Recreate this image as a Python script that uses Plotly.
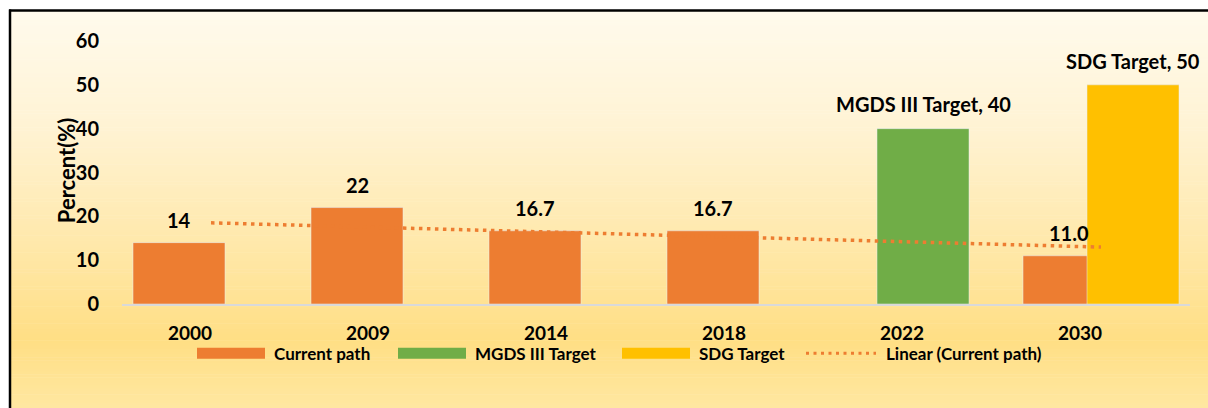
import numpy as np
import plotly.graph_objects as go

# ---------------- data ----------------
years = ["2000", "2009", "2014", "2018", "2022", "2030"]
current_path = [14, 22, 16.7, 16.7, None, 11.0]
current_labels = ["14", "22", "16.7", "16.7", "", "11.0"]
mgds_target = [None, None, None, None, 40, None]
mgds_labels = ["", "", "", "", "MGDS III Target, 40", ""]
sdg_target = [None, None, None, None, None, 50]
sdg_labels = ["", "", "", "", "", "SDG Target, 50"]
y_ticks = [0, 10, 20, 30, 40, 50, 60]
legend_names = ["Current path", "MGDS III Target", "SDG Target", "Linear (Current path)"]

# ---------------- styles ----------------
ORANGE = "#ED7D31"
GREEN = "#70AD47"
YELLOW = "#FFC000"
FONT = "Lato"

W, H = 1208, 408
# pixel geometry of the plot area
P_LEFT, P_RIGHT, P_TOP, P_Y0 = 122, 1190, 41, 303.7
ML = P_LEFT
MR = W - P_RIGHT
MT = P_TOP
MB = H - P_Y0
PW = P_RIGHT - P_LEFT
PH = P_Y0 - P_TOP


def px_x(p):
    """pixel x -> paper fraction"""
    return (p - P_LEFT) / PW


def px_y(p):
    """pixel y -> paper fraction"""
    return (P_Y0 - p) / PH


bar_w = 92 / 178
shift = 32 / 178

fig = go.Figure()
fig.add_trace(go.Bar(x=years, y=current_path, name=legend_names[0], marker_color=ORANGE,
                     width=bar_w, offset=-shift - bar_w / 2, showlegend=False))
fig.add_trace(go.Bar(x=years, y=mgds_target, name=legend_names[1], marker_color=GREEN,
                     width=bar_w, offset=-bar_w / 2, showlegend=False))
fig.add_trace(go.Bar(x=years, y=sdg_target, name=legend_names[2], marker_color=YELLOW,
                     width=bar_w, offset=shift - bar_w / 2, showlegend=False))

# linear trendline of current path (Excel-style, on category index)
idx = np.array([i for i, v in enumerate(current_path) if v is not None], dtype=float)
vals = np.array([v for v in current_path if v is not None], dtype=float)
slope, intercept = np.polyfit(idx + 1, vals, 1)
trend = [slope * (i + 1) + intercept for i in range(len(years))]
fig.add_trace(go.Scatter(x=years, y=trend, mode="lines", name=legend_names[3],
                         line=dict(color=ORANGE, width=3.5, dash="3.5px,4.5px"),
                         showlegend=False))

annotations = []
label_font = dict(family=FONT, size=20, color="black", weight="bold")
for i, (v, t) in enumerate(zip(current_path, current_labels)):
    if v is not None and t:
        annotations.append(dict(x=i - shift, y=v, xref="x", yref="y", text=t, showarrow=False,
                                yshift=23, yanchor="middle", font=label_font))
for i, (v, t) in enumerate(zip(mgds_target, mgds_labels)):
    if v is not None and t:
        annotations.append(dict(x=i, y=v, xref="x", yref="y", text=t, showarrow=False,
                                yshift=25, yanchor="middle", font=label_font))
for i, (v, t) in enumerate(zip(sdg_target, sdg_labels)):
    if v is not None and t:
        annotations.append(dict(x=i + shift, y=v, xref="x", yref="y", text=t, showarrow=False,
                                yshift=24, yanchor="middle", font=label_font))

# y-axis title
annotations.append(dict(x=px_x(66), y=px_y(171), xref="paper", yref="paper", text="Percent(%)",
                        textangle=-90, showarrow=False, xanchor="center", yanchor="middle",
                        font=dict(family=FONT, size=22, color="black", weight="bold")))

shapes = []
# background gradient (chart area fill)
stops_px = [11, 120, 230, 340, 408]
stops_rgb = [(255, 251, 237), (255, 244, 214), (255, 234, 176), (255, 223, 133), (255, 232, 162)]
n = 140
edges = np.linspace(11, H, n + 1)
for k in range(n):
    mid = (edges[k] + edges[k + 1]) / 2
    r = np.interp(mid, stops_px, [c[0] for c in stops_rgb])
    g = np.interp(mid, stops_px, [c[1] for c in stops_rgb])
    b = np.interp(mid, stops_px, [c[2] for c in stops_rgb])
    shapes.append(dict(type="rect", xref="paper", yref="paper", layer="below",
                       x0=px_x(11), x1=px_x(W + 2), y0=px_y(edges[k + 1] + 0.5), y1=px_y(edges[k]),
                       line=dict(width=0), fillcolor=f"rgb({int(r)},{int(g)},{int(b)})"))
# frame
shapes.append(dict(type="line", xref="paper", yref="paper", x0=px_x(10), x1=px_x(10),
                   y0=px_y(9.5), y1=px_y(H + 2), line=dict(color="black", width=2.5)))
shapes.append(dict(type="line", xref="paper", yref="paper", x0=px_x(9), x1=px_x(W + 2),
                   y0=px_y(10.5), y1=px_y(10.5), line=dict(color="black", width=2.5)))

# manual legend
leg_y = 353
swatches = [(197, 265, ORANGE), (398, 466, GREEN), (622, 690, YELLOW)]
text_x = [272, 473, 697, 884]
for (a, b_, c) in swatches:
    shapes.append(dict(type="rect", xref="paper", yref="paper", x0=px_x(a), x1=px_x(b_),
                       y0=px_y(leg_y + 5.5), y1=px_y(leg_y - 5.5), line=dict(width=0), fillcolor=c))
shapes.append(dict(type="line", xref="paper", yref="paper", x0=px_x(806), x1=px_x(876),
                   y0=px_y(leg_y), y1=px_y(leg_y),
                   line=dict(color=ORANGE, width=3, dash="3px,4.5px")))
for name, tx in zip(legend_names, text_x):
    annotations.append(dict(x=px_x(tx), y=px_y(leg_y + 0.5), xref="paper", yref="paper", text=name,
                            showarrow=False, xanchor="left", yanchor="middle",
                            font=dict(family=FONT, size=17, color="black", weight="bold")))

fig.update_layout(
    width=W, height=H,
    margin=dict(l=ML, r=MR, t=MT, b=MB, pad=0),
    paper_bgcolor="white",
    plot_bgcolor="rgba(0,0,0,0)",
    barmode="overlay",
    showlegend=False,
    shapes=shapes,
    annotations=annotations,
    xaxis=dict(type="category", range=[-0.5, 5.5], showgrid=False, zeroline=False,
               showline=True, linecolor="#D9D9D9", linewidth=2,
               ticks="outside", ticklen=11, tickcolor="rgba(0,0,0,0)",
               ticklabelshift=-21,
               tickfont=dict(family=FONT, size=19, color="black", weight="bold"),
               fixedrange=True),
    yaxis=dict(range=[0, 60], tickvals=y_ticks, showgrid=False, zeroline=False, showline=False,
               ticks="outside", ticklen=18, tickcolor="rgba(0,0,0,0)",
               tickfont=dict(family=FONT, size=20, color="black", weight="bold"),
               fixedrange=True),
)

fig.write_html(
    "out.html",
    config={"displayModeBar": False},
    post_script="document.body.style.margin='0';document.body.style.overflow='hidden';",
)
